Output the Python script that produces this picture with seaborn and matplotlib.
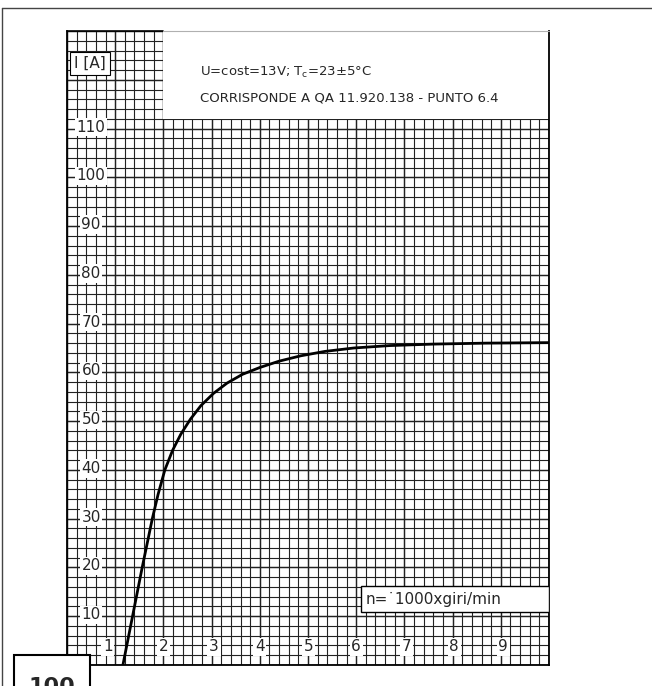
import numpy as np
import matplotlib
matplotlib.use("Agg")
import matplotlib.pyplot as plt
from matplotlib.patches import Rectangle
from matplotlib.lines import Line2D
import seaborn as sns

# curve: n [x1000 giri/min] vs I [A]
rpm = [1.16, 1.36, 1.56, 1.77, 1.89, 2.03, 2.19, 2.36, 2.56, 2.78, 3.04,
       3.32, 3.64, 4.00, 4.40, 4.85, 5.35, 5.95, 6.70, 7.60, 8.70, 10.0]
amp = [0.0, 10.0, 20.0, 30.0, 35.0, 40.0, 44.0, 47.3, 50.4, 53.2, 55.7,
       57.8, 59.6, 61.0, 62.3, 63.4, 64.3, 65.0, 65.5, 65.8, 66.0, 66.1]

x_labels = ["1", "2", "3", "4", "5", "6", "7", "8", "9"]
x_label_pos = [0.85, 2.0, 3.05, 4.0, 5.02, 6.0, 7.05, 8.03, 9.05]
y_labels = ["10", "20", "30", "40", "50", "60", "70", "80", "90", "100", "110"]
y_label_pos = [10, 20, 30, 40, 50, 60, 70, 80, 90, 100, 110]

header1 = "U=cost=13V; T$_{\\rm c}$=23±5°C"
header2 = "CORRISPONDE A QA 11.920.138 - PUNTO 6.4"
unit_y = "I [A]"
unit_x = "n=˙1000xgiri/min"
page_no = "100"

sns.set_style("white")
plt.rcParams['font.family'] = ['DejaVu Sans']

fig = plt.figure(figsize=(6.52, 6.86), dpi=100)
ax = fig.add_axes([67 / 652, 21 / 686, 482 / 652, 634 / 686])
ax.set_xlim(0, 10)
ax.set_ylim(0, 130)

# graph paper grid
gc = "#222222"
for v in np.arange(0, 10.001, 0.2):
    ax.axvline(v, color=gc, lw=0.8 if abs(v - round(v)) > 1e-6 else 1.05, zorder=1)
for v in np.arange(0, 130.001, 2):
    ax.axhline(v, color=gc, lw=0.8 if v % 10 else 1.05, zorder=1)

# white header area
ax.add_patch(Rectangle((2, 112), 8, 18, facecolor="white", edgecolor="none", zorder=2))
ax.plot([0, 2], [130, 130], color="black", lw=1.2, zorder=5, clip_on=False)
ax.plot([2, 10], [130, 130], color="#b0b0b0", lw=0.8, zorder=5, clip_on=False)
ax.text(2.76, 121.6, header1, fontsize=9.5, va="center", ha="left", zorder=6)
ax.text(2.76, 116.3, header2, fontsize=9.5, va="center", ha="left", zorder=6)

sns.lineplot(x=rpm, y=amp, ax=ax, color="black", lw=2.0, sort=False, zorder=4,
             solid_joinstyle="round")

box = dict(facecolor="white", edgecolor="none", pad=1.2)
for lab, yp in zip(y_labels, y_label_pos):
    ax.text(0.5, yp + 0.3, lab, fontsize=11, ha="center", va="center",
            bbox=box, zorder=5)
for lab, xp in zip(x_labels, x_label_pos):
    ax.text(xp, 3.7, lab, fontsize=11, ha="center", va="center",
            bbox=box, zorder=5)

ax.text(0.48, 123.4, unit_y, fontsize=11, ha="center", va="center", zorder=5,
        bbox=dict(facecolor="white", edgecolor="black", lw=0.8, pad=3))

ax.add_patch(Rectangle((6.1, 10.8), 3.9, 5.4, facecolor="white",
                       edgecolor="black", lw=1.0, zorder=5))
ax.text(6.2, 13.5, unit_x, fontsize=11, ha="left", va="center", zorder=6)

ax.set_xticks([])
ax.set_yticks([])
for side in ["left", "bottom", "right"]:
    ax.spines[side].set_visible(True)
    ax.spines[side].set_color("black")
    ax.spines[side].set_linewidth(1.3)
ax.spines["top"].set_visible(False)
ax.set_xlabel("")
ax.set_ylabel("")

# page frame and page number
fig.add_artist(Line2D([2 / 652, 1.0], [1 - 8 / 686, 1 - 8 / 686], color="#444", lw=1.0))
fig.add_artist(Line2D([2 / 652, 2 / 652], [0, 1 - 8 / 686], color="#444", lw=1.0))
fig.add_artist(Rectangle((14 / 652, -0.01), 76 / 652, 0.01 + 31 / 686,
                         transform=fig.transFigure, facecolor="white",
                         edgecolor="black", lw=1.5))
fig.text(52 / 652, 9 / 686, page_no, fontsize=16, fontweight="bold",
         ha="center", va="top")

fig.savefig("out.png", dpi=100)
